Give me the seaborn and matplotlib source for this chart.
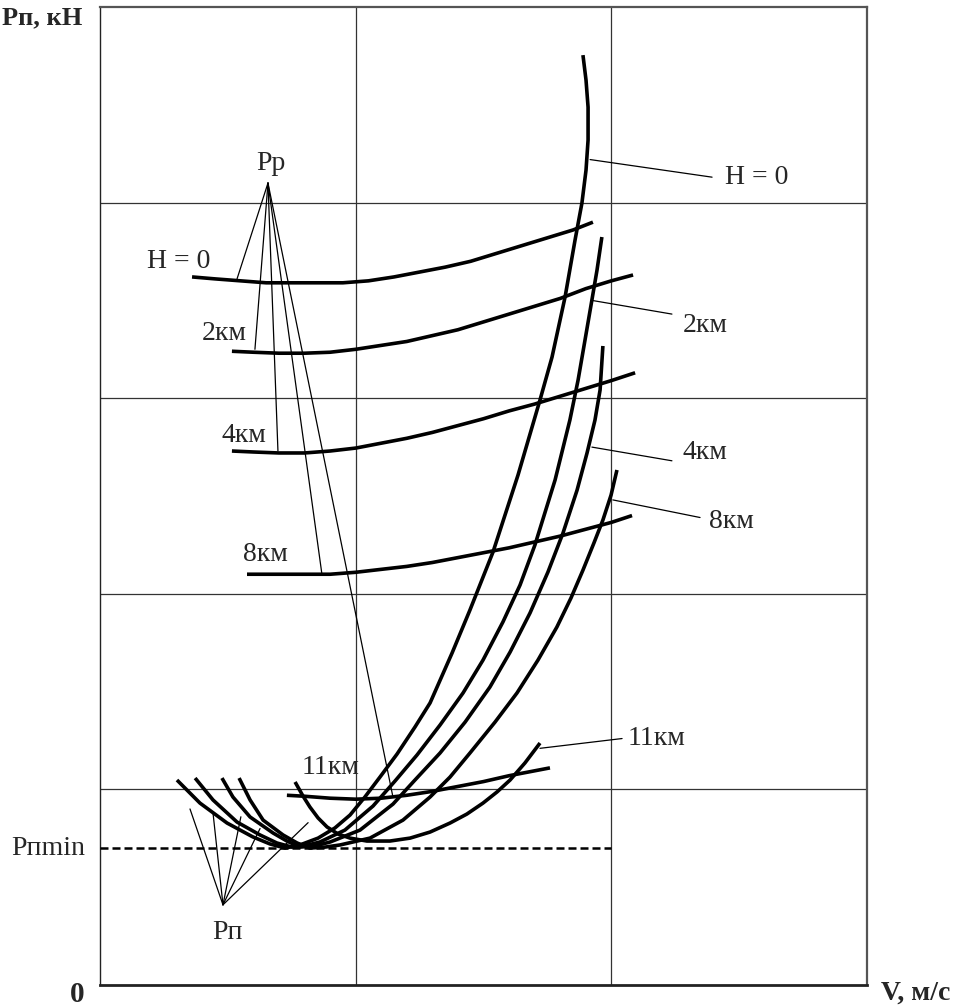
import matplotlib
matplotlib.use("Agg")
import matplotlib.pyplot as plt
import seaborn as sns

# required thrust Pп(V) per altitude (V on 0..300, P on 0..50)
pn_h0_v = [30.1, 39.1, 49.7, 59.8, 66.5, 72.4, 78.2, 85.3, 91.9, 97.8, 103.6, 109.5, 116.2,
           123.2, 129.1, 137.7, 144.7, 153.7, 163.5, 172.1, 176.8, 181.9, 185.8, 188.5,
           190.1, 190.9, 190.9, 190.1, 188.9]
pn_h0_p = [10.48, 9.30, 8.28, 7.57, 7.21, 7.00, 7.16, 7.51, 8.03, 8.69, 9.61, 10.63, 11.81,
           13.19, 14.42, 16.97, 19.17, 22.13, 26.07, 29.91, 32.10, 35.17, 38.08, 39.98,
           41.66, 43.20, 44.88, 46.26, 47.54]
pn_2_v = [37.2, 44.2, 53.6, 62.6, 69.2, 75.1, 81.4, 86.0, 95.8, 106.8, 115.4, 124.0, 133.0,
          142.0, 149.8, 157.6, 164.3, 170.1, 178.0, 183.8, 187.0, 189.7, 192.4, 194.4, 196.3]
pn_2_p = [10.58, 9.46, 8.33, 7.67, 7.26, 7.05, 7.16, 7.31, 7.92, 9.15, 10.43, 11.76, 13.29,
          14.93, 16.61, 18.56, 20.45, 22.49, 25.82, 28.89, 30.93, 32.97, 35.02, 36.55, 38.24]
pn_4_v = [47.7, 52.0, 58.7, 67.7, 73.1, 78.2, 84.1, 90.0, 101.7, 114.6, 123.2, 133.0, 142.8,
          152.5, 160.4, 168.2, 175.2, 181.1, 186.6, 190.5, 193.6, 195.6, 196.7]
pn_4_p = [10.58, 9.61, 8.59, 7.77, 7.36, 7.05, 7.11, 7.31, 7.92, 9.25, 10.48, 11.86, 13.44,
          15.23, 17.02, 19.02, 21.11, 23.11, 25.30, 27.20, 28.88, 30.42, 32.67]
pn_8_v = [54.4, 58.7, 63.8, 71.6, 77.1, 82.1, 88.0, 93.9, 105.6, 118.5, 129.1, 136.9, 144.7,
          154.5, 163.1, 171.3, 178.7, 184.2, 188.9, 193.2, 196.7, 199.9, 202.2]
pn_8_p = [10.58, 9.46, 8.43, 7.67, 7.26, 7.00, 7.05, 7.16, 7.51, 8.43, 9.61, 10.63, 11.86,
          13.44, 14.93, 16.61, 18.30, 19.78, 21.21, 22.60, 23.77, 25.05, 26.33]
pn_11_v = [76.3, 79.4, 82.1, 85.3, 88.8, 93.1, 97.8, 104.4, 113.4, 121.3, 129.1, 136.9,
           143.5, 149.8, 155.3, 160.4, 166.2, 172.1]
pn_11_p = [10.38, 9.66, 9.10, 8.54, 8.08, 7.72, 7.51, 7.36, 7.36, 7.51, 7.82, 8.28,
           8.74, 9.30, 9.87, 10.48, 11.35, 12.37]

# available thrust Pp(V) per altitude
pp_h0_v = [36, 45, 55, 65, 75, 85, 95, 105, 115, 125, 135, 145, 155, 165, 175, 185, 192.8]
pp_h0_p = [36.2, 36.1, 36.0, 35.9, 35.9, 35.9, 35.9, 36.0, 36.2, 36.45, 36.7, 37.0, 37.4,
           37.8, 38.2, 38.6, 39.0]
pp_2_v = [51.6, 60, 70, 80, 90, 100, 110, 120, 130, 140, 150, 160, 170, 180, 190, 200, 208.5]
pp_2_p = [32.4, 32.35, 32.3, 32.3, 32.35, 32.5, 32.7, 32.9, 33.2, 33.5, 33.9, 34.3, 34.7,
          35.1, 35.6, 36.0, 36.3]
pp_4_v = [51.6, 60, 70, 80, 90, 100, 110, 120, 130, 140, 150, 160, 170, 180, 190, 200, 209.3]
pp_4_p = [27.3, 27.25, 27.2, 27.2, 27.3, 27.45, 27.7, 27.95, 28.25, 28.6, 28.95, 29.35,
          29.7, 30.1, 30.5, 30.9, 31.3]
pp_8_v = [57.5, 70, 80, 90, 100, 110, 120, 130, 140, 150, 160, 170, 180, 190, 200, 208.1]
pp_8_p = [21.0, 21.0, 21.0, 21.0, 21.1, 21.25, 21.4, 21.6, 21.85, 22.1, 22.35, 22.65,
          22.95, 23.3, 23.65, 24.0]
pp_11_v = [73.1, 80, 90, 100, 110, 120, 130, 140, 150, 160, 170, 176]
pp_11_p = [9.7, 9.65, 9.55, 9.5, 9.55, 9.7, 9.9, 10.15, 10.4, 10.7, 10.95, 11.1]

p_min = 7.0
v_min_end = 200.0

altitudes = ["H = 0", "2км", "4км", "8км", "11км"]

# pointer fans to the "Рр" and "Рп" labels
pp_tip = (65.7, 41.0)
pp_target_v = [53.6, 60.6, 69.6, 86.8, 114.6]
pp_target_p = [36.1, 32.5, 27.3, 21.0, 9.6]
pn_tip = (48.1, 4.1)
pn_target_v = [35.2, 44.2, 55.1, 62.6, 81.4]
pn_target_p = [9.0, 8.8, 8.6, 8.0, 8.3]

# right side labels of the Pп curves
lead_start_v = [191.7, 192.4, 192.4, 200.6, 172.1]
lead_start_p = [42.2, 35.0, 27.5, 24.8, 12.1]
lead_end_v = [239.4, 223.7, 223.7, 234.7, 204.2]
lead_end_p = [41.3, 34.3, 26.8, 23.9, 12.6]
right_label_v = [244.5, 228.0, 228.0, 238.2, 206.5]
right_label_p = [41.3, 33.7, 27.2, 23.7, 12.6]

# left side labels of the Pp curves
left_label_v = [18.4, 39.9, 47.7, 55.9, 79.0]
left_label_p = [37.0, 33.3, 28.1, 22.0, 11.1]

sns.set_theme(style="white")
plt.rcParams["font.family"] = ["Liberation Serif", "DejaVu Serif"]

fig = plt.figure(figsize=(9.62, 10.08), dpi=100)
ax = fig.add_axes([100 / 962, 1 - 985 / 1008, 767 / 962, 978 / 1008])

thick = dict(color="black", linewidth=2.6, sort=False, estimator=None, ax=ax, legend=False,
             solid_joinstyle="round", solid_capstyle="butt")
thin = dict(color="black", linewidth=0.9, zorder=3)

pn_curves = [(pn_h0_v, pn_h0_p), (pn_2_v, pn_2_p), (pn_4_v, pn_4_p), (pn_8_v, pn_8_p), (pn_11_v, pn_11_p)]
pp_curves = [(pp_h0_v, pp_h0_p), (pp_2_v, pp_2_p), (pp_4_v, pp_4_p), (pp_8_v, pp_8_p), (pp_11_v, pp_11_p)]

for v, p in pn_curves + pp_curves:
    sns.lineplot(x=v, y=p, zorder=4, **thick)

ax.plot([0, v_min_end], [p_min, p_min], color="black", linewidth=1.8,
        linestyle=(0, (3.2, 1.6)), zorder=3)

for tv, tp in zip(pp_target_v, pp_target_p):
    ax.plot([pp_tip[0], tv], [pp_tip[1], tp], **thin)
for tv, tp in zip(pn_target_v, pn_target_p):
    ax.plot([pn_tip[0], tv], [pn_tip[1], tp], **thin)

for i, name in enumerate(altitudes):
    ax.plot([lead_start_v[i], lead_end_v[i]], [lead_start_p[i], lead_end_p[i]], **thin)
    ax.text(right_label_v[i], right_label_p[i], name, fontsize=20, ha="left", va="center")
    ax.text(left_label_v[i], left_label_p[i], name, fontsize=20, ha="left", va="center")

ax.text(61.0, 42.0, "Рр", fontsize=20, ha="left", va="center")
ax.text(43.8, 2.7, "Рп", fontsize=20, ha="left", va="center")
ax.text(-5.9, p_min, "Рпmin", fontsize=20, ha="right", va="center", clip_on=False)

ax.set_xlim(0, 300)
ax.set_ylim(0, 50)
ax.set_xticks([100, 200])
ax.set_yticks([10, 20, 30, 40])
ax.set_xticklabels([])
ax.set_yticklabels([])
ax.tick_params(length=0)
ax.grid(True, color="#333333", linewidth=0.9)
ax.set_axisbelow(True)
for side in ["top", "right"]:
    ax.spines[side].set_color("#555555")
    ax.spines[side].set_linewidth(1.6)
ax.spines["left"].set_color("#222222")
ax.spines["left"].set_linewidth(1.0)
ax.spines["bottom"].set_color("#222222")
ax.spines["bottom"].set_linewidth(2.0)

fig.text(2 / 962, 1 - 18 / 1008, "Рп, кН", fontsize=19, fontweight="bold", ha="left", va="center")
fig.text(77 / 962, 1 - 995 / 1008, "0", fontsize=21, fontweight="bold", ha="center", va="center")
fig.text(881 / 962, 1 - 993 / 1008, "V, м/с", fontsize=20, fontweight="bold", ha="left", va="center")

fig.savefig("out.png", dpi=100)
